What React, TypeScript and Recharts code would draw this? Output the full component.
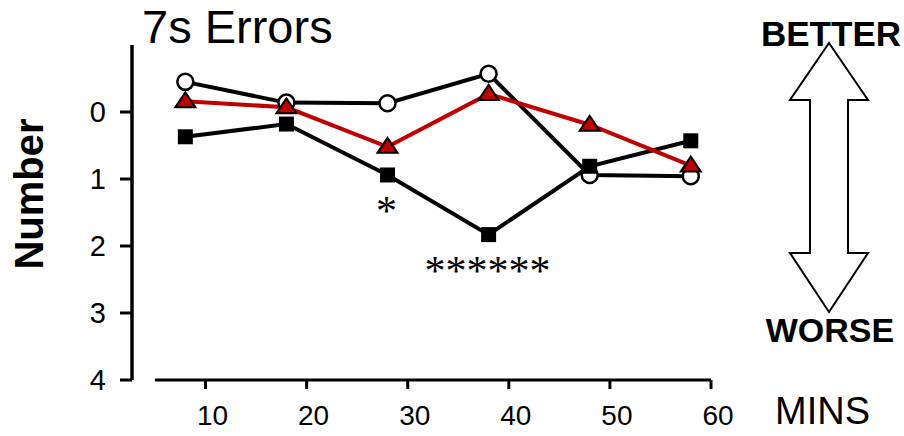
import React from "react";
import { LineChart, Line, XAxis, YAxis, ReferenceLine, LabelList, Label } from "recharts";

// minutes after dose
const minutes = [8, 18, 28, 38, 48, 58];
// three groups, mean errors
const circleErrors = [-0.45, -0.14, -0.13, -0.57, 0.94, 0.96];
const triangleErrors = [-0.16, -0.07, 0.52, -0.27, 0.19, 0.8];
const squareErrors = [0.37, 0.18, 0.94, 1.83, 0.81, 0.43];
const significance = ["", "", "*", "******", "", ""];
const xTicks = [10, 20, 30, 40, 50, 60];
const yTicks = [0, 1, 2, 3, 4];

const data = minutes.map((m, i) => ({
  min: m,
  circle: circleErrors[i],
  triangle: triangleErrors[i],
  square: squareErrors[i],
  sig: significance[i]
}));

const RED = "#c00000";
const SANS = "'Liberation Sans', Arial, sans-serif";

const squareDot = (p: any) => (
  <rect key={"sq" + p.index} x={p.cx - 7.5} y={p.cy - 7.5} width={15} height={15} fill="#000" />
);

const triangleDot = (p: any) => (
  <polygon
    key={"tr" + p.index}
    points={`${p.cx},${p.cy - 9} ${p.cx - 10},${p.cy + 6} ${p.cx + 10},${p.cy + 6}`}
    fill={RED}
    stroke="#000"
    strokeWidth={2}
  />
);

const starLabel = (p: any) =>
  p.value ? (
    <text
      x={p.x - 1}
      y={p.y + 50}
      textAnchor="middle"
      fontFamily="'Liberation Serif', serif"
      fontSize={42}
      fill="#000"
    >
      {p.value}
    </text>
  ) : null;

const yLabel = () => (
  <text
    transform="translate(43,194) rotate(-90)"
    textAnchor="middle"
    fontFamily={SANS}
    fontWeight="bold"
    fontSize={40}
    fill="#000"
  >
    Number
  </text>
);

export default function App() {
  return (
    <div style={{ position: "absolute", left: 0, top: 0, width: 904, height: 436, background: "#fff" }}>
      <LineChart
        width={904}
        height={436}
        data={data}
        margin={{ top: 45, right: 193, left: 0, bottom: 0 }}
      >
        <XAxis
          dataKey="min"
          type="number"
          domain={[5, 60]}
          ticks={xTicks}
          padding={{ left: 23, right: 0 }}
          axisLine={false}
          tickLine={{ stroke: "#000", strokeWidth: 3 }}
          tickSize={9}
          tickMargin={16}
          height={56}
          tick={{ fill: "#000", fontSize: 28, fontFamily: SANS, dx: 7 }}
        />
        <YAxis
          reversed
          type="number"
          domain={[-1, 4]}
          ticks={yTicks}
          width={132}
          axisLine={{ stroke: "#000", strokeWidth: 3.5 }}
          tickLine={{ stroke: "#000", strokeWidth: 3 }}
          tickSize={12}
          tickMargin={14}
          tick={{ fill: "#000", fontSize: 29, fontFamily: SANS }}
        >
          <Label content={yLabel} />
        </YAxis>
        <ReferenceLine
          segment={[{ x: 5, y: 4 }, { x: 60, y: 4 }]}
          stroke="#000"
          strokeWidth={3}
        />
        <Line
          dataKey="circle"
          stroke="#000"
          strokeWidth={4}
          isAnimationActive={false}
          dot={{ r: 8, fill: "#fff", stroke: "#000", strokeWidth: 2.5 }}
        />
        <Line
          dataKey="square"
          stroke="#000"
          strokeWidth={4}
          isAnimationActive={false}
          dot={squareDot}
        >
          <LabelList dataKey="sig" content={starLabel} />
        </Line>
        <Line
          dataKey="triangle"
          stroke={RED}
          strokeWidth={4}
          isAnimationActive={false}
          dot={triangleDot}
        />
      </LineChart>
      <svg
        width={904}
        height={436}
        style={{ position: "absolute", left: 0, top: 0, pointerEvents: "none" }}
      >
        <text x={142} y={43} fontFamily={SANS} fontSize={47} fill="#000">
          7s Errors
        </text>
        <text x={775} y={424} fontFamily={SANS} fontSize={38} fill="#000">
          MINS
        </text>
        <text x={831} y={46} textAnchor="middle" fontFamily={SANS} fontWeight="bold" fontSize={35} fill="#000">
          BETTER
        </text>
        <text x={830} y={342} textAnchor="middle" fontFamily={SANS} fontWeight="bold" fontSize={34} fill="#000">
          WORSE
        </text>
        <polygon
          points="829,43 868,100 848,100 848,253 868,253 829,312 790,253 810,253 810,100 790,100"
          fill="#fff"
          stroke="#000"
          strokeWidth={2}
        />
      </svg>
    </div>
  );
}
